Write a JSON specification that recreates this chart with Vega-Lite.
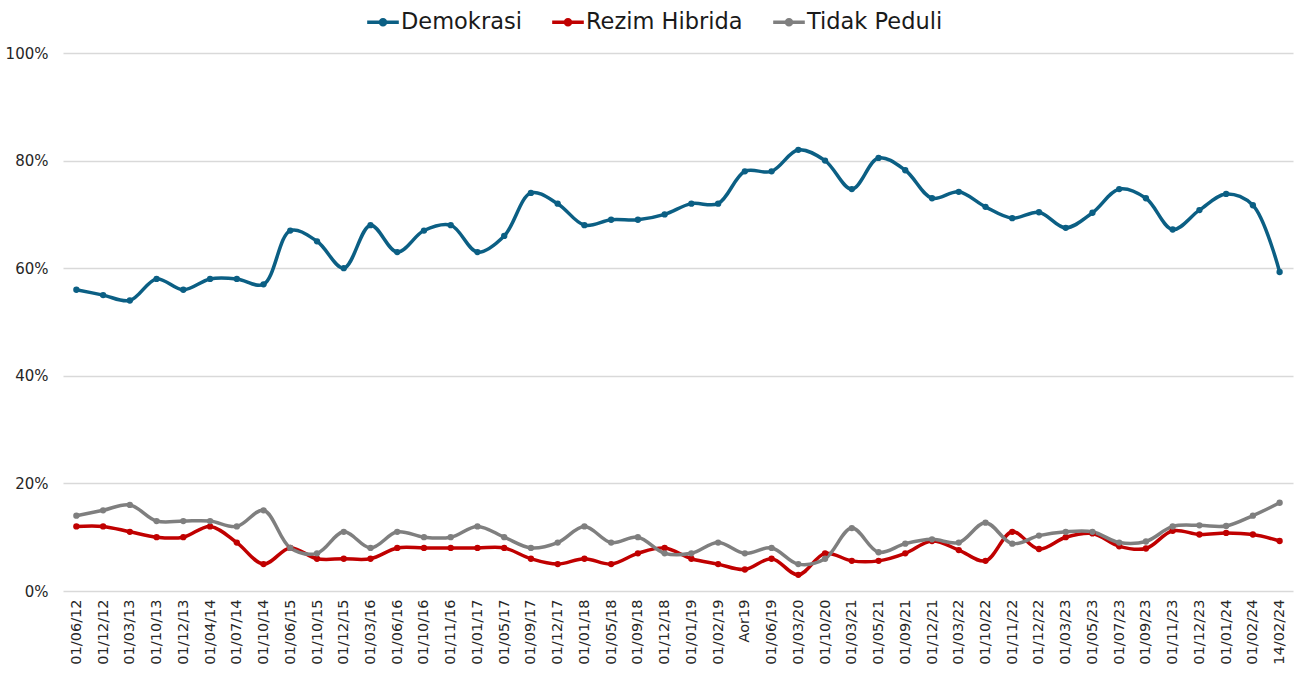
{
  "$schema": "https://vega.github.io/schema/vega-lite/v6.json",
  "width": 1230,
  "height": 538,
  "autosize": {"type": "none"},
  "padding": {"left": 63, "top": 53, "right": 1, "bottom": 84},
  "background": "white",
  "config": {
    "view": {"stroke": null},
    "font": "DejaVu Sans"
  },
  "data": {
    "values": [
      {"d": "01/06/12", "Demokrasi": 56, "Rezim Hibrida": 12, "Tidak Peduli": 14},
      {"d": "01/12/12", "Demokrasi": 55, "Rezim Hibrida": 12, "Tidak Peduli": 15},
      {"d": "01/03/13", "Demokrasi": 54, "Rezim Hibrida": 11, "Tidak Peduli": 16},
      {"d": "01/10/13", "Demokrasi": 58, "Rezim Hibrida": 10, "Tidak Peduli": 13},
      {"d": "01/12/13", "Demokrasi": 56, "Rezim Hibrida": 10, "Tidak Peduli": 13},
      {"d": "01/04/14", "Demokrasi": 58, "Rezim Hibrida": 12, "Tidak Peduli": 13},
      {"d": "01/07/14", "Demokrasi": 58, "Rezim Hibrida": 9, "Tidak Peduli": 12},
      {"d": "01/10/14", "Demokrasi": 57, "Rezim Hibrida": 5, "Tidak Peduli": 15},
      {"d": "01/06/15", "Demokrasi": 67, "Rezim Hibrida": 8, "Tidak Peduli": 8},
      {"d": "01/10/15", "Demokrasi": 65, "Rezim Hibrida": 6, "Tidak Peduli": 7},
      {"d": "01/12/15", "Demokrasi": 60, "Rezim Hibrida": 6, "Tidak Peduli": 11},
      {"d": "01/03/16", "Demokrasi": 68, "Rezim Hibrida": 6, "Tidak Peduli": 8},
      {"d": "01/06/16", "Demokrasi": 63, "Rezim Hibrida": 8, "Tidak Peduli": 11},
      {"d": "01/10/16", "Demokrasi": 67, "Rezim Hibrida": 8, "Tidak Peduli": 10},
      {"d": "01/11/16", "Demokrasi": 68, "Rezim Hibrida": 8, "Tidak Peduli": 10},
      {"d": "01/01/17", "Demokrasi": 63, "Rezim Hibrida": 8, "Tidak Peduli": 12},
      {"d": "01/05/17", "Demokrasi": 66, "Rezim Hibrida": 8, "Tidak Peduli": 10},
      {"d": "01/09/17", "Demokrasi": 74, "Rezim Hibrida": 6, "Tidak Peduli": 8},
      {"d": "01/12/17", "Demokrasi": 72, "Rezim Hibrida": 5, "Tidak Peduli": 9},
      {"d": "01/01/18", "Demokrasi": 68, "Rezim Hibrida": 6, "Tidak Peduli": 12},
      {"d": "01/05/18", "Demokrasi": 69, "Rezim Hibrida": 5, "Tidak Peduli": 9},
      {"d": "01/09/18", "Demokrasi": 69, "Rezim Hibrida": 7, "Tidak Peduli": 10},
      {"d": "01/12/18", "Demokrasi": 70, "Rezim Hibrida": 8, "Tidak Peduli": 7},
      {"d": "01/01/19", "Demokrasi": 72, "Rezim Hibrida": 6, "Tidak Peduli": 7},
      {"d": "01/02/19", "Demokrasi": 72, "Rezim Hibrida": 5, "Tidak Peduli": 9},
      {"d": "Aor19", "Demokrasi": 78, "Rezim Hibrida": 4, "Tidak Peduli": 7},
      {"d": "01/06/19", "Demokrasi": 78, "Rezim Hibrida": 6, "Tidak Peduli": 8},
      {"d": "01/03/20", "Demokrasi": 82, "Rezim Hibrida": 3, "Tidak Peduli": 5},
      {"d": "01/10/20", "Demokrasi": 80, "Rezim Hibrida": 7, "Tidak Peduli": 6},
      {"d": "01/03/21", "Demokrasi": 74.7, "Rezim Hibrida": 5.6, "Tidak Peduli": 11.7},
      {"d": "01/05/21", "Demokrasi": 80.5, "Rezim Hibrida": 5.6, "Tidak Peduli": 7.2},
      {"d": "01/09/21", "Demokrasi": 78.2, "Rezim Hibrida": 7, "Tidak Peduli": 8.8},
      {"d": "01/12/21", "Demokrasi": 73, "Rezim Hibrida": 9.3, "Tidak Peduli": 9.6},
      {"d": "01/03/22", "Demokrasi": 74.2, "Rezim Hibrida": 7.6, "Tidak Peduli": 9},
      {"d": "01/10/22", "Demokrasi": 71.4, "Rezim Hibrida": 5.6, "Tidak Peduli": 12.7},
      {"d": "01/11/22", "Demokrasi": 69.3, "Rezim Hibrida": 11, "Tidak Peduli": 8.8},
      {"d": "01/12/22", "Demokrasi": 70.4, "Rezim Hibrida": 7.8, "Tidak Peduli": 10.3},
      {"d": "01/03/23", "Demokrasi": 67.5, "Rezim Hibrida": 10, "Tidak Peduli": 11},
      {"d": "01/05/23", "Demokrasi": 70.3, "Rezim Hibrida": 10.7, "Tidak Peduli": 11},
      {"d": "01/07/23", "Demokrasi": 74.7, "Rezim Hibrida": 8.3, "Tidak Peduli": 9},
      {"d": "01/09/23", "Demokrasi": 73, "Rezim Hibrida": 7.9, "Tidak Peduli": 9.2},
      {"d": "01/11/23", "Demokrasi": 67.2, "Rezim Hibrida": 11.2, "Tidak Peduli": 12},
      {"d": "01/12/23", "Demokrasi": 70.8, "Rezim Hibrida": 10.5, "Tidak Peduli": 12.2},
      {"d": "01/01/24", "Demokrasi": 73.8, "Rezim Hibrida": 10.8, "Tidak Peduli": 12.1},
      {"d": "01/02/24", "Demokrasi": 71.7, "Rezim Hibrida": 10.5, "Tidak Peduli": 14},
      {"d": "14/02/24", "Demokrasi": 59.3, "Rezim Hibrida": 9.3, "Tidak Peduli": 16.4}
    ]
  },
  "transform": [
    {"fold": ["Demokrasi", "Rezim Hibrida", "Tidak Peduli"], "as": ["s", "v"]}
  ],
  "encoding": {
    "x": {
      "field": "d",
      "type": "nominal",
      "sort": null,
      "scale": {"type": "point", "padding": 0.5},
      "axis": {
        "title": null,
        "labelAngle": -90,
        "labelAlign": "right",
        "labelBaseline": "middle",
        "labelFontSize": 14.5,
        "labelColor": "#262626",
        "labelPadding": 8,
        "ticks": false,
        "domain": false,
        "grid": false
      }
    },
    "y": {
      "field": "v",
      "type": "quantitative",
      "scale": {"domain": [0, 100], "nice": false},
      "axis": {
        "title": null,
        "values": [0, 20, 40, 60, 80, 100],
        "labelExpr": "datum.value + '%'",
        "labelFontSize": 15,
        "labelColor": "#262626",
        "labelPadding": 15,
        "ticks": false,
        "domain": false,
        "gridColor": "#d9d9d9",
        "gridWidth": 1.3
      }
    },
    "color": {
      "field": "s",
      "type": "nominal",
      "scale": {
        "domain": ["Demokrasi", "Rezim Hibrida", "Tidak Peduli"],
        "range": ["#0b5f84", "#c00000", "#7f7f7f"]
      },
      "legend": {
        "title": null,
        "orient": "none",
        "direction": "horizontal",
        "legendX": 304,
        "legendY": -47,
        "padding": 0,
        "labelFontSize": 22.5,
        "labelColor": "#1a1a1a",
        "labelOffset": 2,
        "columnPadding": 30,
        "symbolType": "M-1,-0.11H1V0.11H-1Z M-0.27,0A0.27,0.27 0 1,1 0.27,0A0.27,0.27 0 1,1 -0.27,0Z",
        "symbolSize": 1000,
        "symbolStrokeWidth": 0
      }
    }
  },
  "layer": [
    {
      "mark": {"type": "line", "interpolate": "catmull-rom", "strokeWidth": 3.5}
    },
    {
      "mark": {"type": "point", "filled": true, "size": 40, "opacity": 1}
    }
  ]
}
